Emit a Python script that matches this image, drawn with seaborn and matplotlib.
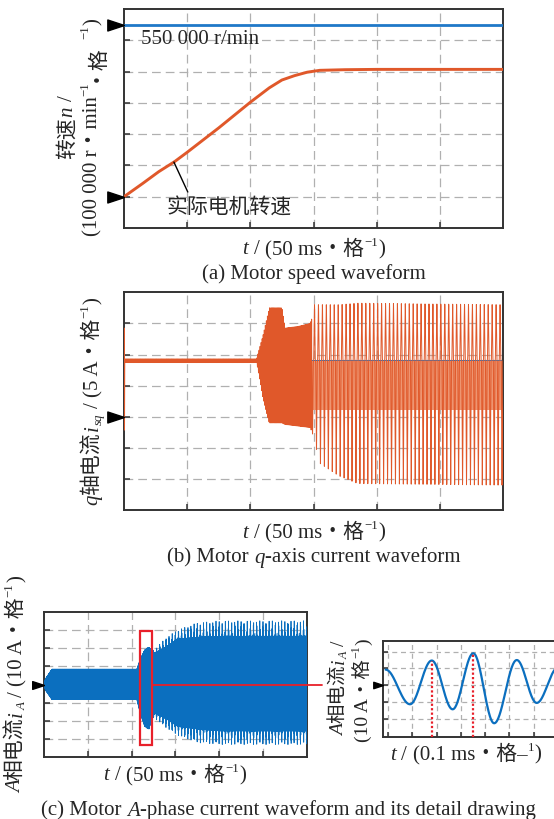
import numpy as np
import pandas as pd
import matplotlib
matplotlib.use("Agg")
import matplotlib.pyplot as plt
import seaborn as sns

# ---------------- data ----------------
# (a) motor speed; x in 50 ms divisions, y in 1e5 r/min
speed_ref = 5.5
speed_t = [0, 0.3, 0.55, 0.8, 1.0, 1.5, 2.0, 2.3, 2.5, 2.7, 2.9, 3.1, 3.5, 4.0, 5.0, 6.0]
speed_n = [0, 0.43, 0.80, 1.12, 1.42, 2.20, 3.02, 3.48, 3.73, 3.87, 3.98, 4.04, 4.06, 4.07, 4.07, 4.07]

# (b) q-axis current; x in 50 ms divisions, y in 5 A divisions
q_ref = 1.8
q_start_t = [0.0, 0.004, 0.008, 0.012]
q_start_v = [1.8, 2.85, -0.43, 1.8]
q_knot_t = [0.0, 2.1, 2.2, 2.3, 2.5, 2.55, 2.75, 2.95, 3.0, 3.1, 3.4, 3.7, 6.0]
q_top    = [1.86, 1.86, 2.6, 3.5, 3.5, 2.85, 2.9, 3.0, 3.6, 3.6, 3.6, 3.65, 3.6]
q_bot    = [1.74, 1.74, 0.6, -0.2, -0.2, -0.25, -0.3, -0.35, -0.65, -1.5, -1.9, -2.15, -2.2]
q_band   = [0.2, 1.8]   # dense middle band after the switch
q_switch = 2.97
q_fast = 60      # cycles per division (dense part)
q_spike = 16     # cycles per division (large spikes)

# (c) A-phase current; x in 50 ms divisions, y in 10 A divisions
ia_t        = [0.0, 0.03, 0.18, 2.12, 2.2, 2.3, 2.4, 2.47, 2.55, 2.8, 3.05, 3.5, 4.0, 6.0]
ia_core_up  = [0.0, 0.3, 0.84, 0.84, 1.4, 1.9, 2.05, 1.75, 1.75, 2.1, 2.5, 2.6, 2.65, 2.65]
ia_core_dn  = [0.0, 0.3, 0.82, 0.82, 1.6, 2.3, 2.45, 1.7, 1.6, 1.9, 2.3, 2.45, 2.55, 2.55]
ia_spike_up = [0.0, 0.3, 0.84, 0.84, 1.4, 1.9, 2.1, 1.8, 2.0, 2.6, 3.0, 3.4, 3.5, 3.5]
ia_spike_dn = [0.0, 0.3, 0.82, 0.82, 1.6, 2.3, 2.5, 1.8, 1.9, 2.4, 2.8, 3.2, 3.3, 3.3]
ia_fc = 150      # carrier cycles per division
ia_fs = 14       # spike cycles per division
zoom_t = [2.19, 2.47]
zoom_v = [-3.32, 2.94]
link_end_t = 6.35

# (c) detail; x in 0.1 ms divisions, y in 10 A divisions (extrema of the wave)
det_ext_t = [-0.10, 0.905, 1.80, 2.66, 3.51, 4.37, 5.30, 6.12, 7.0]
det_ext_v = [0.93, -1.13, 1.47, -1.43, 1.90, -2.26, 1.50, -1.05, 1.05]
det_mark_idx = [2, 4]

# ---------------- style ----------------
sns.set_theme(style="white")
FAM = ["Liberation Serif", "Noto Sans CJK SC"]
plt.rcParams["font.family"] = FAM
plt.rcParams["axes.unicode_minus"] = True

W, H, DPI = 554, 819, 100
fig = plt.figure(figsize=(W / DPI, H / DPI), dpi=DPI)
ORANGE = "#E0582A"
BLUE_A = "#1F78C8"
BLUE_C = "#0B6FBF"
RED = "#E8202A"


def rect(l, t, r, b):
    return [l / W, 1 - b / H, (r - l) / W, (b - t) / H]


def style_axes(ax, xt, yt, dash=(7, 4), tl=4.3):
    ax.set_xticks(xt)
    ax.set_yticks(yt)
    ax.tick_params(direction="in", length=tl, width=1.1, color="#333333",
                   labelleft=False, labelbottom=False, left=True, bottom=True,
                   top=False, right=False)
    ax.grid(True, color="#b0b0b0", linestyle=(0, dash), linewidth=0.9)
    ax.set_axisbelow(True)
    for s in ax.spines.values():
        s.set_color("#333333")
        s.set_linewidth(1.4)
    ax.set_xlabel("")
    ax.set_ylabel("")


TRI = [(0, 0), (-1, 0.33), (-1, -0.33), (0, 0)]


def arrow(ax, y, ms=24):
    ax.plot([0], [y], marker=TRI, markersize=ms, color="black", ls="none",
            transform=ax.get_yaxis_transform(), clip_on=False, zorder=10)


# ---------------- (a) ----------------
ax_a = fig.add_axes(rect(124, 9, 503, 228))
df_a = pd.DataFrame({"t": speed_t, "n": speed_n})
sns.lineplot(data=df_a, x="t", y="n", ax=ax_a, color=ORANGE, lw=2.1,
             estimator=None, errorbar=None, zorder=3)
ax_a.axhline(speed_ref, color=BLUE_A, lw=2.0, zorder=3)
ax_a.set_xlim(0, 6)
ax_a.set_ylim(-1, 6)
style_axes(ax_a, [1, 2, 3, 4, 5], [0, 1, 2, 3, 4, 5])
arrow(ax_a, speed_ref)
arrow(ax_a, 0)
ax_a.text(0.27, 5.04, "550 000 r/min", fontsize=15, ha="left", va="center",
          family=FAM, zorder=5)
ax_a.text(0.665, -0.36, "实际电机转速", fontsize=15, ha="left", va="center",
          family=FAM, zorder=5)
lead_t0 = 0.79
ax_a.plot([lead_t0, 1.01], [np.interp(lead_t0, speed_t, speed_n), 0.15],
          color="black", lw=1.0, zorder=4)

# ---------------- (b) ----------------
ax_b = fig.add_axes(rect(124, 292.3, 503, 510))
tb = np.linspace(0.012, 6, 24000)
top = np.interp(tb, q_knot_t, q_top)
bot = np.interp(tb, q_knot_t, q_bot)
mid = (top + bot) / 2
half = (top - bot) / 2
yb_dense = mid + half * np.sin(2 * np.pi * q_fast * tb)
s = np.sin(2 * np.pi * q_spike * tb)
yb_spike = (q_ref + (top - q_ref) * np.clip(s, 0, None) ** 3
            - (q_ref - bot) * np.clip(-s, 0, None) ** 3)
yb = np.where(tb < q_switch, yb_dense, yb_spike)
tb_all = np.concatenate([q_start_t, tb])
yb_all = np.concatenate([q_start_v, yb])
ax_b.axhline(q_ref, color=BLUE_A, lw=1.5, zorder=2)
ax_b.fill_between([q_switch, 6], q_band[0], q_band[1], color="#EE9571",
                  lw=0, zorder=2.5)
sns.lineplot(x=tb_all, y=yb_all, ax=ax_b, color=ORANGE, lw=0.7, sort=False,
             estimator=None, errorbar=None, zorder=3)
ax_b.set_xlim(0, 6)
ax_b.set_ylim(-3, 4)
style_axes(ax_b, [1, 2, 3, 4, 5], [-2, -1, 0, 1, 2, 3])
arrow(ax_b, 0)

# ---------------- (c) main ----------------
ax_c = fig.add_axes(rect(44, 611.7, 306.7, 757.3))
tc = np.linspace(0, 6, 36000)
cu = np.interp(tc, ia_t, ia_core_up)
cd = np.interp(tc, ia_t, ia_core_dn)
su = np.interp(tc, ia_t, ia_spike_up)
sd = np.interp(tc, ia_t, ia_spike_dn)
pul = ((1 + np.cos(2 * np.pi * ia_fs * tc)) / 2) ** 10
car = np.sin(2 * np.pi * ia_fc * tc)
yc = np.where(car >= 0, (cu + (su - cu) * pul) * car, (cd + (sd - cd) * pul) * car)
sns.lineplot(x=tc, y=yc, ax=ax_c, color=BLUE_C, lw=0.6, sort=False,
             estimator=None, errorbar=None, zorder=3)
ax_c.set_xlim(0, 6)
ax_c.set_ylim(-4, 4)
style_axes(ax_c, [1, 2, 3, 4, 5], [-3, -2, -1, 0, 1, 2, 3])
arrow(ax_c, 0, ms=17)
ax_c.add_patch(plt.Rectangle((zoom_t[0], zoom_v[0]), zoom_t[1] - zoom_t[0],
                             zoom_v[1] - zoom_v[0], fill=False, ec=RED, lw=1.6,
                             zorder=6))
ax_c.plot([zoom_t[1], link_end_t], [0, 0], color=RED, lw=1.3, clip_on=False,
          zorder=6)

# ---------------- (c) detail ----------------
ax_d = fig.add_axes(rect(382.7, 640.7, 560, 736.7))
td_parts, vd_parts = [], []
for k in range(len(det_ext_t) - 1):
    u = np.linspace(0, 1, 60, endpoint=False)
    td_parts.append(det_ext_t[k] + (det_ext_t[k + 1] - det_ext_t[k]) * u)
    vd_parts.append(det_ext_v[k] + (det_ext_v[k + 1] - det_ext_v[k]) * (1 - np.cos(np.pi * u)) / 2)
td = np.concatenate(td_parts)
vd = np.concatenate(vd_parts)
sns.lineplot(x=td, y=vd, ax=ax_d, color=BLUE_C, lw=1.6, sort=False,
             estimator=None, errorbar=None, zorder=3)
ax_d.set_xlim(-0.22, 7.08)
ax_d.set_ylim(-3.06, 2.65)
style_axes(ax_d, [0, 1, 2, 3, 4, 5, 6, 7], [-2, -1, 0, 1, 2], dash=(4, 3), tl=3.5)
for i in det_mark_idx:
    ax_d.plot([det_ext_t[i], det_ext_t[i]], [-3.06, det_ext_v[i]], color=RED,
              lw=1.6, ls=(0, (1, 1)), zorder=4)
arrow(ax_d, 0, ms=14)

# ---------------- rich text ----------------
renderer = fig.canvas.get_renderer()
NEG = "\u2212"


def rich(pieces, cx, cy, rot=0, size=15):
    spx = size * DPI / 72
    items = []
    total = 0.0
    for txt, kind in pieces:
        if kind == "gap":
            w = txt * spx
            items.append((None, kind, w, 0, "normal"))
            total += w
            continue
        fs = size * 0.62 if kind in ("sup", "sub", "isub") else size
        st = "italic" if kind in ("i", "isub") else "normal"
        t = fig.text(0, 0, txt, fontsize=fs, fontstyle=st, family=FAM,
                     ha="left", va="baseline")
        w = t.get_window_extent(renderer).width
        t.remove()
        items.append((txt, kind, w, fs, st))
        total += w + 0.02 * spx
    pos = 0.0
    for txt, kind, w, fs, st in items:
        if txt is not None:
            shift = 0.0
            if kind == "sup":
                shift = 0.42 * spx
            elif kind in ("sub", "isub"):
                shift = -0.2 * spx
            if rot == 0:
                px = cx - total / 2 + pos
                py = cy + 0.36 * spx - shift
                fig.text(px / W, 1 - py / H, txt, fontsize=fs, fontstyle=st,
                         family=FAM, ha="left", va="baseline")
            else:
                px = cx + 0.36 * spx - shift
                py = cy + total / 2 - pos
                fig.text(px / W, 1 - py / H, txt, fontsize=fs, fontstyle=st,
                         family=FAM, ha="left", va="baseline", rotation=90,
                         rotation_mode="anchor")
            pos += w + 0.02 * spx
        else:
            pos += w


G = (0.25, "gap")
xl50 = [("t", "i"), G, ("/", "n"), G, ("(50 ms・格", "n"), (NEG + "1", "sup"), (")", "n")]

# (a)
rich([("转速", "n"), ("n", "i"), G, ("/", "n")], 65, 127, rot=90)
rich([("(100 000 r・min", "n"), (NEG + "1", "sup"), ("・格", "n"), (NEG + "1", "sup"), (")", "n")],
     90, 127, rot=90)
rich(xl50, 314, 247)
rich([("(a) Motor speed waveform", "n")], 314, 272)

# (b)
rich([("q", "i"), ("轴电流", "n"), ("i", "i"), ("sq", "isub"), G, ("/", "n"), G,
      ("(5 A・格", "n"), (NEG + "1", "sup"), (")", "n")], 90, 401, rot=90)
rich(xl50, 314, 530)
rich([("(b) Motor", "n"), G, ("q", "i"), ("-axis current waveform", "n")], 314, 555)

# (c)
rich([("A", "i"), ("相电流", "n"), ("i", "i"), ("A", "isub"), G, ("/", "n"), G,
      ("(10 A・格", "n"), (NEG + "1", "sup"), (")", "n")], 14, 684, rot=90)
rich(xl50, 175, 773)
rich([("A", "i"), ("相电流", "n"), ("i", "i"), ("A", "isub"), G, ("/", "n")], 337, 688,
     rot=90, size=14)
rich([("(10 A・格", "n"), (NEG + "1", "sup"), (")", "n")], 361, 690, rot=90, size=14)
rich([("t", "i"), G, ("/", "n"), G, ("(0.1 ms・格–", "n"), ("1", "sup"), (")", "n")], 466, 752)
rich([("(c) Motor", "n"), G, ("A", "i"), ("-phase current waveform and its detail drawing", "n")],
     289, 808)

fig.savefig("out.png", dpi=DPI)
